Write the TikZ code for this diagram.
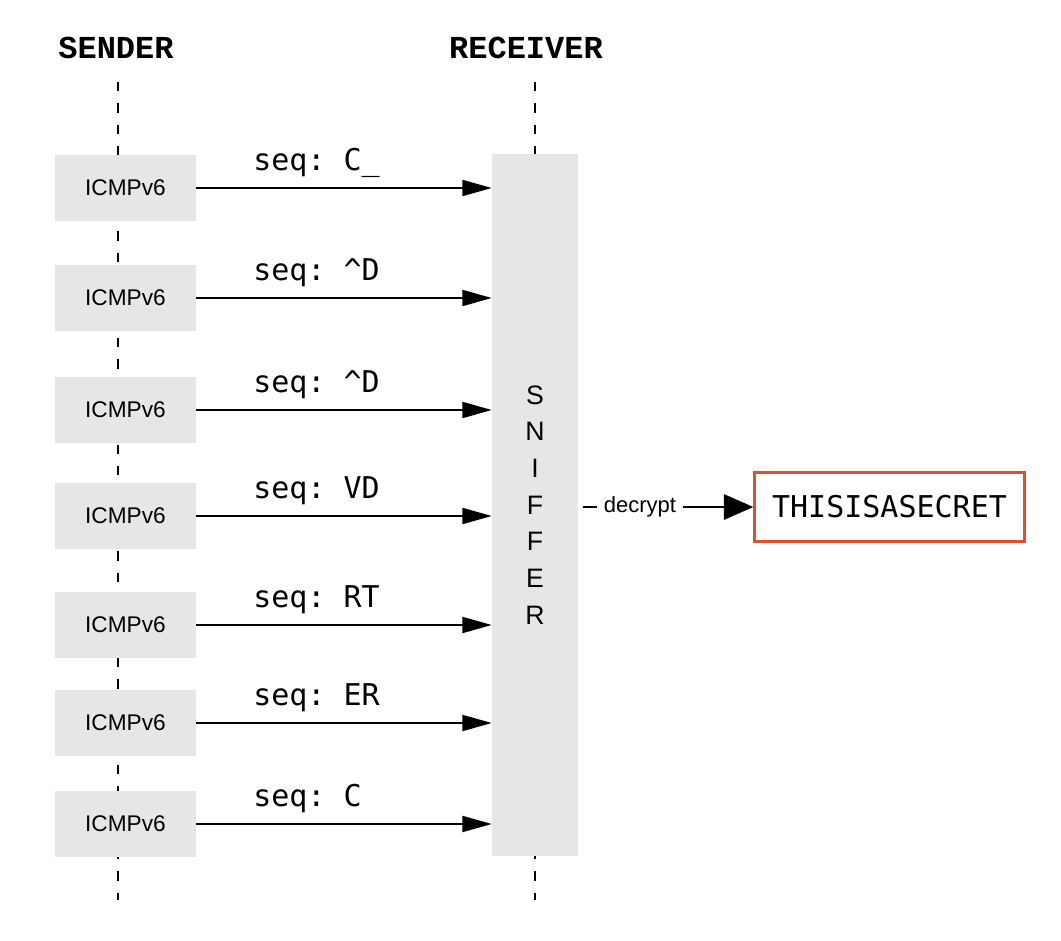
\documentclass[tikz,border=0pt]{standalone}
\usepackage{fontspec}
\setmainfont{Liberation Sans}
\newfontfamily\monofont{DejaVu Sans Mono}
\newfontfamily\headfont{Liberation Mono}
\usetikzlibrary{arrows.meta}
\definecolor{boxgray}{HTML}{E6E6E6}
\definecolor{secretred}{HTML}{E0502F}
\begin{document}
\begin{tikzpicture}[x=0.75pt,y=-0.75pt,
  header/.style={font=\headfont\bfseries\fontsize{24}{26}\selectfont},
  lifeline/.style={line width=1.2pt,dash pattern=on 7pt off 9pt},
  pkt/.style={fill=boxgray,minimum width=106pt,minimum height=49.5pt,inner sep=0pt,font=\fontsize{17}{20}\selectfont},
  msg/.style={-{Triangle[length=22pt,width=12pt]},line width=1.4pt},
  seqlbl/.style={font=\monofont\fontsize{22.5}{26}\selectfont,anchor=west,inner sep=0pt}]
\useasboundingbox (0,0) rectangle (1061,941);
\node[header] (snd) at (116,48) {SENDER};
\node[header] (rcv) at (526,48) {RECEIVER};
\coordinate (sndtop) at (118,82);
\coordinate (sndbot) at (118,900);
\coordinate (rcvtop) at (535,82);
\coordinate (rcvbot) at (535,900);
\draw[lifeline] (sndtop) -- (sndbot);
\draw[lifeline] (rcvtop) -- (rcvbot);
\node[fill=boxgray,minimum width=64.5pt,minimum height=526.5pt,inner sep=0pt,align=center,
  font=\fontsize{20}{27.5}\selectfont] (sniffer) at (535,505) {S\\N\\I\\F\\F\\E\\R};
\foreach \i/\y/\t in {1/188/C\_,2/298/\textasciicircum D,3/410/\textasciicircum D,4/516/VD,5/625/RT,6/723/ER,7/824/C}{
  \node[pkt] (p\i) at (125.5,\y) {ICMPv6};
  \draw[msg] (p\i.east) -- (p\i.east -| sniffer.west);
  \node[seqlbl] (s\i) at (253,\y-25) {seq:\ \t};
}
\node[draw=secretred,line width=2.3pt,minimum width=202pt,minimum height=52pt,inner sep=0pt,
  font=\monofont\fontsize{22.5}{26}\selectfont] (secret) at (889.5,507) {THISISASECRET};
\coordinate (dstart) at ([xshift=3.5pt]sniffer.east |- secret.west);
\draw[-{Triangle[length=22pt,width=19pt]},line width=1.4pt] (dstart) -- (secret.west)
  node[pos=0.335,fill=white,inner xsep=5pt,inner ysep=2pt,font=\fontsize{16.5}{18}\selectfont] (dlbl) {decrypt};
\end{tikzpicture}
\end{document}
